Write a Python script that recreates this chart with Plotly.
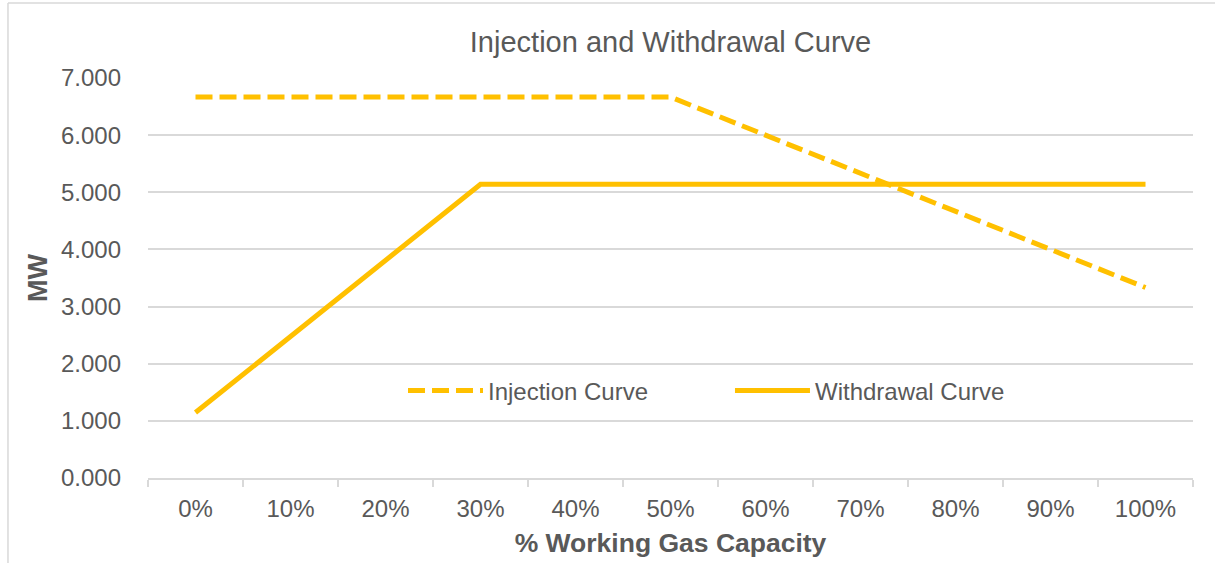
import plotly.graph_objects as go

categories = ["0%", "10%", "20%", "30%", "40%", "50%", "60%", "70%", "80%", "90%", "100%"]
injection = [6.667, 6.667, 6.667, 6.667, 6.667, 6.667, 6.0, 5.333, 4.667, 4.0, 3.333]
withdrawal = [1.145, 2.477, 3.808, 5.14, 5.14, 5.14, 5.14, 5.14, 5.14, 5.14, 5.14]

GOLD = "#FFC000"
TEXT = "#595959"
GRID = "#D9D9D9"
FONT = "Liberation Sans, Arial, sans-serif"

fig = go.Figure()
fig.add_trace(go.Scatter(x=categories, y=injection, mode="lines", name="Injection Curve",
                         line=dict(color=GOLD, width=5, dash="17px,7px")))
fig.add_trace(go.Scatter(x=categories, y=withdrawal, mode="lines", name="Withdrawal Curve",
                         line=dict(color=GOLD, width=5)))

fig.update_layout(
    width=1215, height=563,
    margin=dict(l=148, r=22, t=78, b=85),
    paper_bgcolor="white", plot_bgcolor="white",
    font=dict(family=FONT, color=TEXT, size=24),
    title=dict(text="Injection and Withdrawal Curve", x=0.5, xanchor="center",
               y=1 - 42 / 563, yanchor="middle", xref="paper",
               font=dict(size=29, color=TEXT, family=FONT)),
    showlegend=True,
    legend=dict(orientation="h", x=0.244, xanchor="left", y=0.2175, yanchor="middle",
                bgcolor="rgba(0,0,0,0)", font=dict(size=24, color=TEXT, family=FONT),
                itemwidth=75, entrywidth=237, entrywidthmode="pixels", tracegroupgap=0),
    shapes=[
        dict(type="line", xref="paper", yref="paper", x0=-0.134, x1=-0.134, y0=-0.3, y1=1.1875,
             line=dict(color=GRID, width=1.5)),
        dict(type="line", xref="paper", yref="paper", x0=-0.134, x1=1.2, y0=1.1875, y1=1.1875,
             line=dict(color=GRID, width=1.5)),
    ],
)

fig.update_xaxes(type="category", categoryorder="array", categoryarray=categories,
                 range=[-0.5, 10.5], showgrid=False, showline=True, linecolor=GRID, linewidth=1.5,
                 ticks="outside", tickson="boundaries", ticklen=7, tickcolor=GRID, tickwidth=1.5,
                 tickfont=dict(size=24, color=TEXT, family=FONT), ticklabelstandoff=8,
                 automargin=False,
                 title=dict(text="<b>% Working Gas Capacity</b>", standoff=13,
                            font=dict(size=26.5, color=TEXT, family=FONT)),
                 zeroline=False)
fig.update_yaxes(range=[0, 7], dtick=1, tickformat=".3f", showgrid=True, gridcolor=GRID, gridwidth=1.5,
                 showline=False, zeroline=False, ticks="", ticklabelstandoff=26,
                 automargin=False,
                 tickfont=dict(size=24, color=TEXT, family=FONT),
                 title=dict(text="<b>MW</b>", standoff=5,
                            font=dict(size=27, color=TEXT, family=FONT)))

fig.write_html("out.html", config={"displayModeBar": False},
               post_script="document.body.style.margin='0';document.body.style.overflow='hidden';")
